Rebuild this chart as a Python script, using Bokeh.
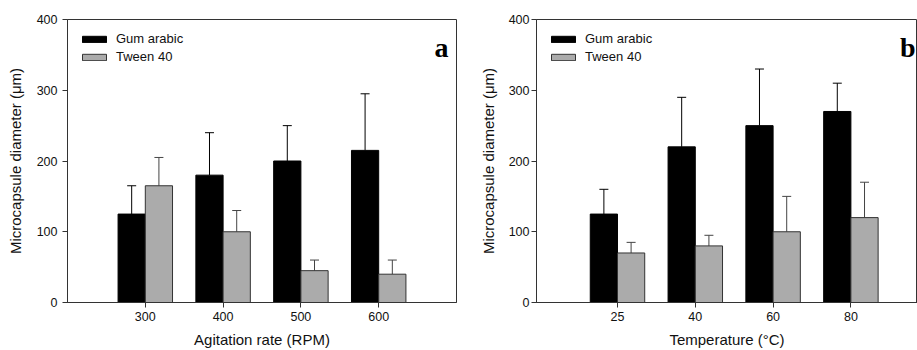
import numpy as np
from bokeh.plotting import figure
from bokeh.models import ColumnDataSource, Whisker, TeeHead, FixedTicker, Label, Range1d
from bokeh.layouts import row
from bokeh.embed import file_html
from bokeh.resources import INLINE

# ---- data ----
rpm_labels = ["300", "400", "500", "600"]
gum_rpm = [125, 180, 200, 215]
gum_rpm_err = [40, 60, 50, 80]
tween_rpm = [165, 100, 45, 40]
tween_rpm_err = [40, 30, 15, 20]

temp_labels = ["25", "40", "60", "80"]
gum_temp = [125, 220, 250, 270]
gum_temp_err = [35, 70, 80, 40]
tween_temp = [70, 80, 100, 120]
tween_temp_err = [15, 15, 50, 50]

y_ticks = [0, 100, 200, 300, 400]
series_names = ["Gum arabic", "Tween 40"]

FONT = "Liberation Sans"
GRAY = "#ababab"
EDGE = "#333333"
BAR_W = 0.35


def panel(cats, gum, gum_err, tw, tw_err, xlabel, tag, width,
          border_left, border_right, x_start, x_end, tag_offset,
          y_label_standoff, y_tick_standoff):
    pos = np.arange(1, len(cats) + 1)
    p = figure(width=width, height=350, output_backend="svg", toolbar_location=None,
               x_range=Range1d(x_start, x_end), y_range=Range1d(0, 400),
               min_border_left=border_left, min_border_right=border_right,
               min_border_top=19, min_border_bottom=0)
    p.grid.visible = False
    p.outline_line_color = EDGE
    p.outline_line_width = 1

    src_g = ColumnDataSource(dict(x=pos - BAR_W / 2, top=gum,
                                  upper=np.array(gum) + np.array(gum_err)))
    src_t = ColumnDataSource(dict(x=pos + BAR_W / 2, top=tw,
                                  upper=np.array(tw) + np.array(tw_err)))
    p.vbar(x="x", top="top", width=BAR_W, source=src_g, fill_color="black",
           line_color="black", line_width=1, legend_label=series_names[0])
    p.vbar(x="x", top="top", width=BAR_W, source=src_t, fill_color=GRAY,
           line_color=EDGE, line_width=1, legend_label=series_names[1])

    for src, col in ((src_g, "black"), (src_t, "#444444")):
        w = Whisker(base="x", lower="top", upper="upper", source=src, dimension="height",
                    line_color=col, line_width=1,
                    upper_head=TeeHead(size=9, line_color=col, line_width=1),
                    lower_head=None)
        p.add_layout(w)

    # axes
    p.xaxis.ticker = FixedTicker(ticks=[int(v) for v in pos])
    p.xaxis.major_label_overrides = {int(v): c for v, c in zip(pos, cats)}
    p.yaxis.ticker = FixedTicker(ticks=y_ticks)
    for ax in (p.xaxis, p.yaxis):
        ax.minor_tick_line_color = None
        ax.major_tick_in = 0
        ax.major_tick_out = 5
        ax.major_tick_line_color = EDGE
        ax.axis_line_color = EDGE
        ax.major_label_text_font = FONT
        ax.major_label_text_font_size = "12.5px"
        ax.major_label_text_color = "#111111"
        ax.axis_label_text_font = FONT
        ax.axis_label_text_font_size = "15px"
        ax.axis_label_text_font_style = "normal"
        ax.axis_label_text_color = "#111111"
    p.xaxis.major_label_standoff = 4
    p.xaxis.axis_label = xlabel
    p.xaxis.axis_label_standoff = 7
    p.yaxis.major_label_standoff = y_tick_standoff
    p.yaxis.axis_label = "Microcapsule diameter (μm)"
    p.yaxis.axis_label_standoff = y_label_standoff

    lg = p.legend[0]
    lg.location = "top_left"
    lg.margin = 3
    lg.padding = 9
    lg.glyph_width = 30
    lg.glyph_height = 8
    lg.label_height = 14
    lg.spacing = 3
    lg.label_standoff = 7
    lg.label_text_font = FONT
    lg.label_text_font_size = "13px"
    lg.label_text_color = "#111111"
    lg.background_fill_alpha = 0
    lg.border_line_alpha = 0

    p.add_layout(Label(x=x_end, y=400, x_offset=tag_offset, y_offset=-28, text=tag,
                       text_align="right", text_baseline="alphabetic",
                       text_font="Liberation Serif", text_font_style="bold",
                       text_font_size="28px", text_color="black"))
    return p


p1 = panel(rpm_labels, gum_rpm, gum_rpm_err, tween_rpm, tween_rpm_err,
           "Agitation rate (RPM)", "a", 457, 67, 1, 0.0, 5.0, -8, 10, 5)
p2 = panel(temp_labels, gum_temp, gum_temp_err, tween_temp, tween_temp_err,
           "Temperature (°C)", "b", 460, 79, 0, -0.041, 4.856, -2, 9, 2)

layout = row(p1, p2)
open("out.html", "w").write(file_html(layout, INLINE))
